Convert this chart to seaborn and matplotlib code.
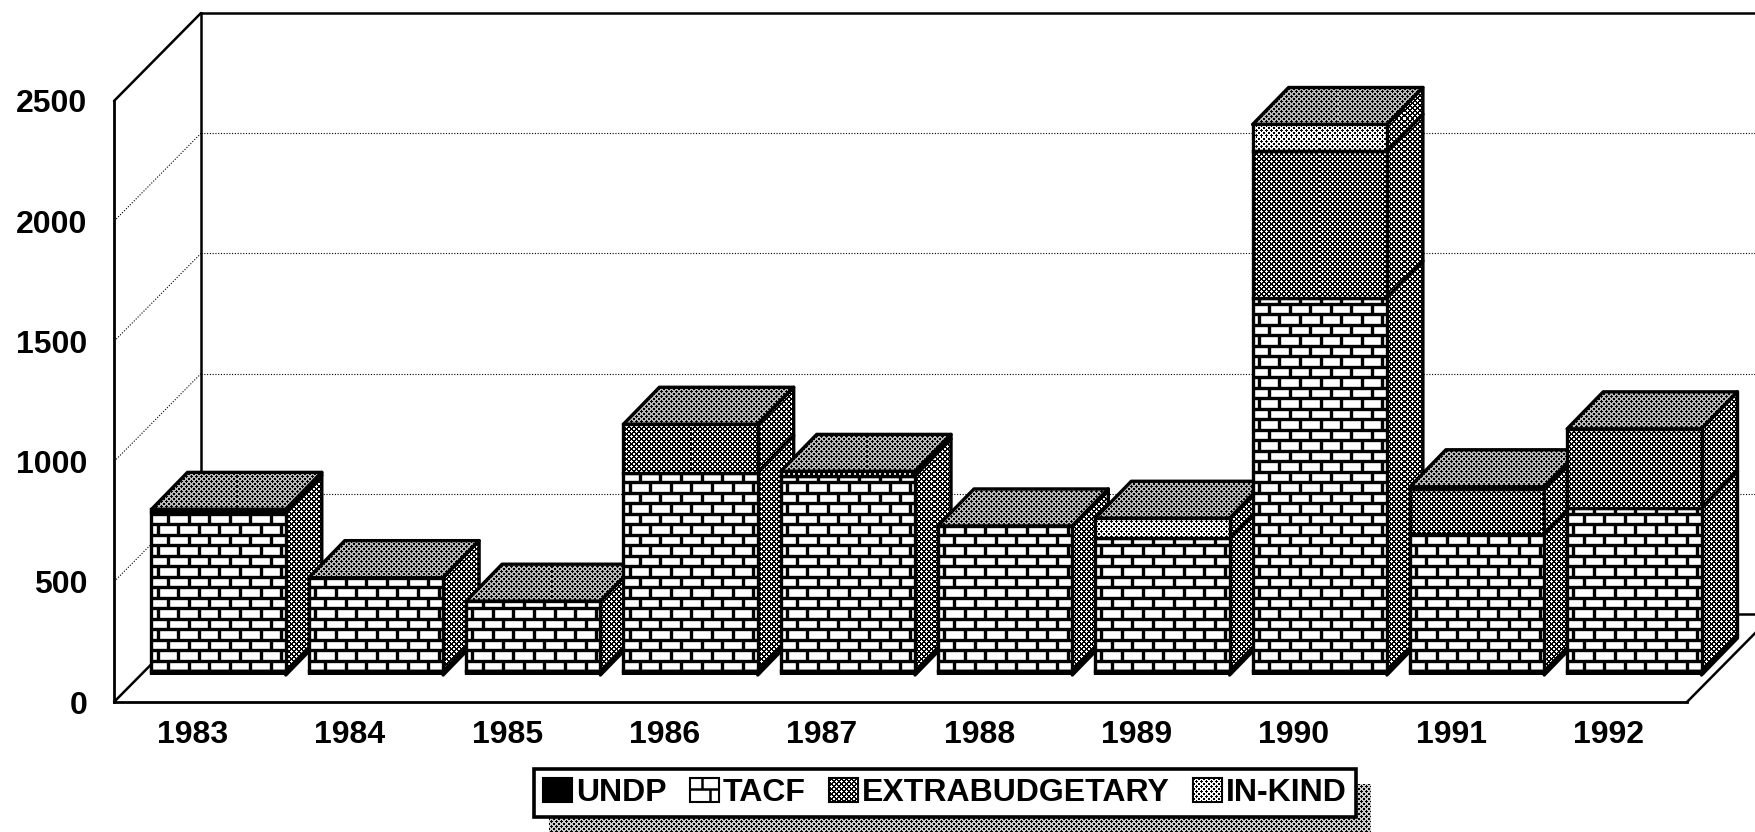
import numpy as np
import matplotlib
matplotlib.use('Agg')
import matplotlib.pyplot as plt
from matplotlib.patches import Patch, Polygon
import seaborn as sns

years = ['1983', '1984', '1985', '1986', '1987', '1988', '1989', '1990', '1991', '1992']
undp = [15, 15, 15, 15, 15, 15, 15, 15, 15, 15]
tacf = [662, 390, 292, 827, 814, 605, 553, 1554, 571, 678]
extrabudgetary = [12, 0, 0, 201, 18, 0, 0, 610, 187, 331]
in_kind = [0, 0, 0, 0, 0, 0, 84, 111, 10, 0]
y_ticks = [0, 500, 1000, 1500, 2000, 2500]
legend_labels = ['UNDP', 'TACF', 'EXTRABUDGETARY', 'IN-KIND']

W, H = 1755, 832
Y_MAX = 2500

sns.set_theme(style='white')
plt.rcParams['font.family'] = ['Liberation Sans', 'DejaVu Sans']
plt.rcParams['font.weight'] = 'bold'
plt.rcParams['font.size'] = 23

fig = plt.figure(figsize=(W / 100, H / 100), dpi=100)

# front plane of the fake 3d box, in pixels from the lower left
LEFT, BOTTOM, BOX_W, BOX_H = 114, 130, 1573, 601
X_PX = BOX_W / len(years)
Y_PX = BOX_H / Y_MAX


def make_axes(dx, dy, zorder):
    ax = fig.add_axes([(LEFT + dx) / W, (BOTTOM + dy) / H, BOX_W / W, BOX_H / H])
    ax.set_xlim(-0.5, len(years) - 0.5)
    ax.set_ylim(0, Y_MAX)
    ax.set_zorder(zorder)
    ax.patch.set_alpha(0)
    return ax


def texture(ax, verts, period, size, dark_dots, zorder, paper=1.0):
    # halftone drawn in device pixels so that the dots stay crisp
    verts = np.asarray(verts, dtype=float)
    px = ax.transData.transform(verts)
    x0, y0 = np.floor(px.min(axis=0)).astype(int)
    x1, y1 = np.ceil(px.max(axis=0)).astype(int)
    xx, yy = np.meshgrid(np.arange(x0, x1), np.arange(y0, y1))
    dots = ((xx + yy) % period < size) & ((xx - yy) % period < size)
    img = (~dots if dark_dots else dots).astype(float) * paper
    (ex0, ey0), (ex1, ey1) = ax.transData.inverted().transform([(x0, y0), (x1, y1)])
    im = ax.imshow(img, extent=(ex0, ex1, ey0, ey1), origin='lower', cmap='gray', vmin=0, vmax=1,
                   interpolation='nearest', aspect='auto', zorder=zorder)
    # the last bar's depth runs past the axes box
    im.set_clip_box(fig.bbox)
    im.set_clip_path(Polygon(verts, closed=True, transform=ax.transData))
    return im


def rect_verts(x0, y0, x1, y1):
    return [(x0, y0), (x1, y0), (x1, y1), (x0, y1)]


def outline(ax, verts, zorder):
    ax.add_patch(Polygon(verts, closed=True, fill=False, edgecolor='black', lw=2.4, joinstyle='round',
                         clip_on=False, zorder=zorder))


# back wall with the dotted grid
ax_wall = make_axes(87, 88, 1)
ax_wall.set_autoscale_on(False)
ax_wall.grid(False)
for v in y_ticks[1:-1]:
    ax_wall.axhline(v, color='black', lw=0.8, ls=(0, (1, 1.5)))
for side in ['right']:
    ax_wall.spines[side].set_visible(False)
for side in ['left', 'top', 'bottom']:
    ax_wall.spines[side].set_linewidth(1.8)
    ax_wall.spines[side].set_color('black')
ax_wall.set_xticks([])
ax_wall.set_yticks([])
depth_x = 87 / X_PX
depth_y = 88 / Y_PX
for v in y_ticks:
    solid = v in (0, Y_MAX)
    ax_wall.plot([-0.5, -0.5 - depth_x], [v, v - depth_y], color='black', clip_on=False,
                 lw=1.8 if solid else 0.8, ls='-' if solid else (0, (1, 1.5)))
ax_wall.plot([len(years) - 0.5, len(years) - 0.5 - depth_x], [0, -depth_y], color='black', lw=1.8, clip_on=False)

# front plane holds the axes and tick labels
ax_front = make_axes(0, 0, 2)
ax_front.grid(False)
ax_front.spines['top'].set_visible(False)
ax_front.spines['right'].set_visible(False)
ax_front.spines['left'].set_linewidth(2)
ax_front.spines['bottom'].set_linewidth(2)
ax_front.spines['left'].set_color('black')
ax_front.spines['bottom'].set_color('black')
ax_front.set_xticks(range(len(years)), years)
ax_front.set_yticks(y_ticks)
ax_front.tick_params(axis='x', length=0, pad=13, colors='black', labelsize=23)
ax_front.tick_params(axis='y', length=0, pad=19, colors='black', labelsize=23)

# bars sit in the middle of the floor
ax_bars = make_axes(26, 27, 3)
ax_bars.axis('off')
BAR_W = 0.854
series = [undp, tacf, extrabudgetary, in_kind]
bottoms = np.zeros(len(years))
stack_bottoms = []
for values in series:
    stack_bottoms.append(bottoms.copy())
    sns.barplot(x=years, y=values, bottom=bottoms, color='white', saturation=1, width=BAR_W, errorbar=None,
                edgecolor='black', linewidth=2.4, ax=ax_bars)
    bottoms = bottoms + np.array(values)
ax_bars.set_xlim(-0.5, len(years) - 0.5)
ax_bars.set_ylim(0, Y_MAX)
ax_bars.set_autoscale_on(False)

bar_dx = 36 / X_PX
bar_dy = 37 / Y_PX
BRICK_H = 10.5 / Y_PX
BRICK_W = 20.6 / X_PX

for i in range(len(years)):
    base = 10 * (i + 1)
    x0 = i - BAR_W / 2
    x1 = i + BAR_W / 2

    # top and side faces
    top_val = bottoms[i]
    top = [(x0, top_val), (x1, top_val), (x1 + bar_dx, top_val + bar_dy), (x0 + bar_dx, top_val + bar_dy)]
    texture(ax_bars, top, 5, 3, True, base + 1, paper=0.72)
    outline(ax_bars, top, base + 2)
    for k, values in enumerate(series):
        if values[i] <= 0:
            continue
        lo = stack_bottoms[k][i]
        hi = lo + values[i]
        side = [(x1, lo), (x1 + bar_dx, lo + bar_dy), (x1 + bar_dx, hi + bar_dy), (x1, hi)]
        texture(ax_bars, side, 5, 3, False, base + 1)
        outline(ax_bars, side, base + 2)

    # front faces
    for k, values in enumerate(series):
        patch = ax_bars.containers[k][i]
        patch.set_zorder(base + 5 if k != 1 else base + 3)
        if values[i] <= 0:
            patch.set_visible(False)
            continue
        lo = stack_bottoms[k][i]
        hi = lo + values[i]
        if k == 0:
            patch.set_facecolor('black')
        elif k == 2:
            patch.set_facecolor('none')
            texture(ax_bars, rect_verts(x0, lo, x1, hi), 5, 3, False, base + 3)
        elif k == 3:
            patch.set_facecolor('none')
            texture(ax_bars, rect_verts(x0, lo, x1, hi), 5, 3, True, base + 3)
        else:
            rows = np.arange(lo, hi, BRICK_H)
            hl = ax_bars.hlines(rows, x0, x1, color='black', lw=2.4, zorder=base + 4)
            hl.set_clip_path(patch)
            for r, row in enumerate(rows):
                xs = np.arange(x0 + (0.3 if r % 2 else 0.8) * BRICK_W, x1, BRICK_W)
                vl = ax_bars.vlines(xs, row, min(row + BRICK_H, hi), color='black', lw=2.4, zorder=base + 4)
                vl.set_clip_path(patch)

# legend lives in a full figure axes measured in pixels
ax_leg = fig.add_axes([0, 0, 1, 1])
ax_leg.set_xlim(0, W)
ax_leg.set_ylim(0, H)
ax_leg.set_autoscale_on(False)
ax_leg.axis('off')
ax_leg.set_zorder(4)
handles = [Patch(facecolor=c, edgecolor='black', linewidth=1.5) for c in ['black', 'white', 'white', 'white']]
leg = ax_leg.legend(handles, legend_labels, loc='center', bbox_to_anchor=(945, 39), bbox_transform=ax_leg.transData,
                    ncol=4, fancybox=False, framealpha=1, edgecolor='black', borderpad=0.27, borderaxespad=0,
                    handlelength=0.92, handleheight=0.78, handletextpad=0.12, columnspacing=0.72, fontsize=23,
                    labelcolor='black')
leg.get_frame().set_linewidth(2.6)
leg.set_zorder(5)
fig.canvas.draw()

box = leg.get_window_extent()
texture(ax_leg, rect_verts(box.x0 + 15, box.y0 - 15, box.x1 + 15, box.y1 - 15), 5, 3, True, 1, paper=0.8)
leg_patches = leg.get_patches()
b = leg_patches[1].get_window_extent()
ax_leg.hlines([b.y0 + b.height * 0.55], b.x0, b.x1, color='black', lw=1.8, zorder=6)
ax_leg.vlines([b.x0 + b.width * 0.4], b.y0 + b.height * 0.55, b.y1, color='black', lw=1.8, zorder=6)
ax_leg.vlines([b.x0 + b.width * 0.7], b.y0, b.y0 + b.height * 0.55, color='black', lw=1.8, zorder=6)
b = leg_patches[2].get_window_extent()
texture(ax_leg, rect_verts(b.x0 + 1, b.y0 + 1, b.x1 - 1, b.y1 - 1), 5, 3, False, 6)
b = leg_patches[3].get_window_extent()
texture(ax_leg, rect_verts(b.x0 + 1, b.y0 + 1, b.x1 - 1, b.y1 - 1), 5, 3, True, 6)

fig.savefig('out.png', dpi=100)
plt.close(fig)
